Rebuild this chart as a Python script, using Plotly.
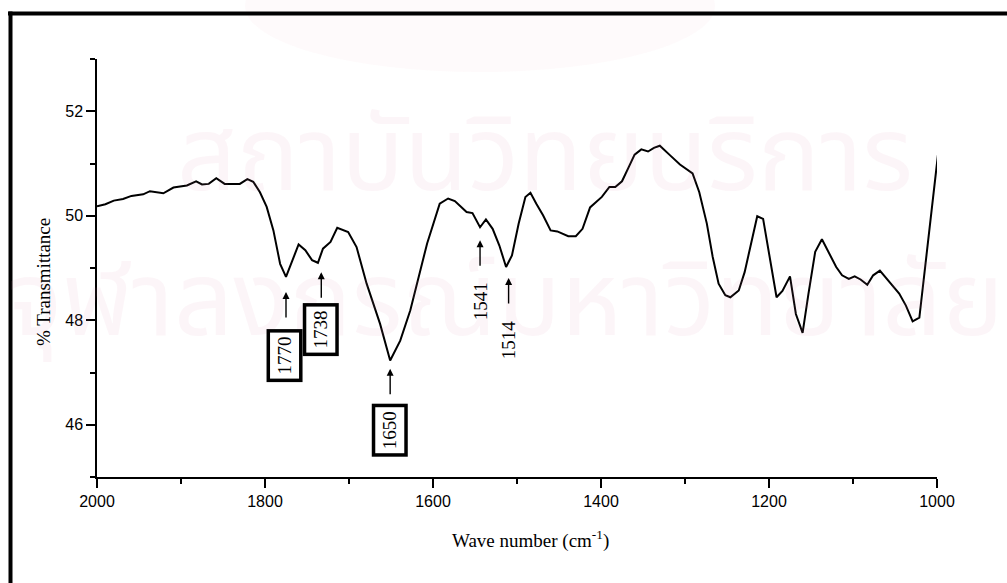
import plotly.graph_objects as go

# ---- data ----
wavenumber = [2000, 1990, 1980, 1969, 1959, 1945, 1937, 1921, 1909, 1893, 1882, 1875, 1867, 1858,
              1848, 1830, 1821, 1814, 1806, 1798, 1790, 1782, 1775, 1768, 1760, 1752, 1744, 1737,
              1731, 1722, 1714, 1701, 1691, 1679, 1663, 1651, 1639, 1627, 1612, 1607, 1592, 1582,
              1574, 1560, 1553, 1544, 1537, 1529, 1521, 1513, 1506, 1498, 1490, 1484, 1477, 1469,
              1460, 1452, 1439, 1430, 1422, 1413, 1399, 1390, 1383, 1375, 1367, 1360, 1352, 1344,
              1337, 1330, 1318, 1306, 1291, 1283, 1274, 1267, 1260, 1252, 1246, 1236, 1229, 1222,
              1214, 1207, 1199, 1191, 1184, 1175, 1168, 1160, 1153, 1145, 1137, 1129, 1120, 1113,
              1105, 1098, 1091, 1083, 1076, 1068, 1059, 1052, 1045, 1037, 1029, 1021, 1013, 1006, 998]
transmittance = [50.18, 50.22, 50.29, 50.32, 50.38, 50.41, 50.47, 50.43, 50.54, 50.58, 50.66, 50.60, 50.61, 50.72,
                 50.61, 50.61, 50.70, 50.65, 50.45, 50.17, 49.72, 49.08, 48.83, 49.11, 49.45, 49.34, 49.15, 49.10,
                 49.37, 49.50, 49.77, 49.69, 49.40, 48.70, 47.93, 47.23, 47.61, 48.19, 49.15, 49.47, 50.23, 50.33,
                 50.28, 50.07, 50.05, 49.78, 49.93, 49.75, 49.43, 49.02, 49.24, 49.85, 50.36, 50.44, 50.23, 50.01,
                 49.72, 49.70, 49.61, 49.61, 49.75, 50.16, 50.36, 50.55, 50.55, 50.66, 50.93, 51.17, 51.27, 51.23,
                 51.30, 51.34, 51.16, 50.98, 50.81, 50.45, 49.85, 49.21, 48.70, 48.48, 48.44, 48.57, 48.92, 49.40,
                 49.99, 49.94, 49.21, 48.44, 48.56, 48.84, 48.12, 47.76, 48.51, 49.31, 49.55, 49.31, 49.02, 48.86,
                 48.79, 48.84, 48.78, 48.68, 48.86, 48.95, 48.78, 48.63, 48.51, 48.28, 47.98, 48.05, 49.18, 50.23, 51.29]

peak_labels = ["1770", "1738", "1650", "1541", "1514"]
peak_arrow_x = [1775, 1733, 1651, 1544, 1510]
peak_arrow_y = [48.54, 48.92, 47.07, 49.53, 48.81]
peak_label_x = [1777, 1734, 1651.5, 1543, 1510]
peak_label_y = [47.32, 47.82, 45.90, 48.36, 47.63]
peak_boxed = [True, True, True, False, False]

x_ticks = [2000, 1800, 1600, 1400, 1200, 1000]
y_ticks = [46, 48, 50, 52]

# ---- geometry helpers (pixel -> paper) ----
W, H = 1007, 583
L, R, T, B = 97, 937, 59, 477


def px(p):
    return (p - L) / (R - L)


def py(p):
    return (B - p) / (B - T)


fig = go.Figure()
fig.add_trace(go.Scatter(x=wavenumber, y=transmittance, mode="lines",
                         line=dict(color="black", width=2), hoverinfo="skip", showlegend=False))

serif = "Liberation Serif, Times New Roman, serif"
sans = "Liberation Sans, Arial, sans-serif"

annotations = []
# watermark text (faint)
wm_color = "rgba(215,130,165,0.08)"
wm_font = "Noto Sans Thai, Loma, Garuda, sans-serif"
annotations.append(dict(text="สถาบันวิทยบริการ", x=px(545), y=py(158), xref="paper", yref="paper",
                        xanchor="center", yanchor="middle", showarrow=False,
                        font=dict(size=104, color=wm_color, family=wm_font)))
annotations.append(dict(text="จุฬาลงกรณ์มหาวิทยาลัย", x=px(505), y=py(303), xref="paper", yref="paper",
                        xanchor="center", yanchor="middle", showarrow=False,
                        font=dict(size=104, color=wm_color, family=wm_font)))

# axis titles
annotations.append(dict(text="Wave number (cm<sup>-1</sup>)", x=px(530), y=py(539), xref="paper", yref="paper",
                        xanchor="center", yanchor="middle", showarrow=False,
                        font=dict(size=19, color="black", family=serif)))
annotations.append(dict(text="% Transmittance", x=px(43), y=py(282), xref="paper", yref="paper",
                        xanchor="center", yanchor="middle", showarrow=False, textangle=-90,
                        font=dict(size=19, color="black", family=serif)))

# peak arrows + labels
for lab, axx, ayy, lx, ly, boxed in zip(peak_labels, peak_arrow_x, peak_arrow_y,
                                        peak_label_x, peak_label_y, peak_boxed):
    annotations.append(dict(x=axx, y=ayy, xref="x", yref="y", text="", showarrow=True,
                            ax=0, ay=27, arrowhead=2, arrowsize=1, arrowwidth=1.4, arrowcolor="black"))
    a = dict(x=lx, y=ly, xref="x", yref="y", text=lab, showarrow=False, textangle=-90,
             xanchor="center", yanchor="middle",
             font=dict(size=19, color="black", family=serif))
    if boxed:
        a.update(bordercolor="black", borderwidth=3.5, borderpad=4, bgcolor="white")
    annotations.append(a)

shapes = [
    # faint emblem
    dict(type="circle", xref="paper", yref="paper", x0=px(245), x1=px(715), y0=py(72), y1=py(-60),
         fillcolor="rgba(225,150,170,0.045)", line=dict(width=0), layer="below"),
    # outer frame lines
    dict(type="line", xref="paper", yref="paper", x0=px(8), x1=px(1010), y0=py(13.5), y1=py(13.5),
         line=dict(color="black", width=4)),
    dict(type="line", xref="paper", yref="paper", x0=px(10.5), x1=px(10.5), y0=py(11.5), y1=py(590),
         line=dict(color="black", width=4)),
]

fig.update_layout(
    width=W, height=H,
    margin=dict(l=L, r=W - R, t=T, b=H - B, pad=0),
    paper_bgcolor="white", plot_bgcolor="rgba(0,0,0,0)",
    showlegend=False,
    annotations=annotations,
    shapes=shapes,
    xaxis=dict(range=[2000, 1000], tickvals=x_ticks, ticktext=[str(v) for v in x_ticks],
               showgrid=False, zeroline=False, showline=True, linecolor="black", linewidth=1.5,
               ticks="outside", ticklen=9, tickwidth=1.5, tickcolor="black",
               minor=dict(dtick=100, tick0=2000, ticks="outside", ticklen=5, tickwidth=1.5, tickcolor="black", showgrid=False),
               tickfont=dict(size=16, color="black", family=sans)),
    yaxis=dict(range=[45, 53], tickvals=y_ticks, ticktext=[str(v) for v in y_ticks],
               showgrid=False, zeroline=False, showline=True, linecolor="black", linewidth=1.5,
               ticks="outside", ticklen=9, tickwidth=1.5, tickcolor="black",
               minor=dict(dtick=1, tick0=45, ticks="outside", ticklen=5, tickwidth=1.5, tickcolor="black", showgrid=False),
               tickfont=dict(size=16, color="black", family=sans)),
)

fig.write_html("out.html")
